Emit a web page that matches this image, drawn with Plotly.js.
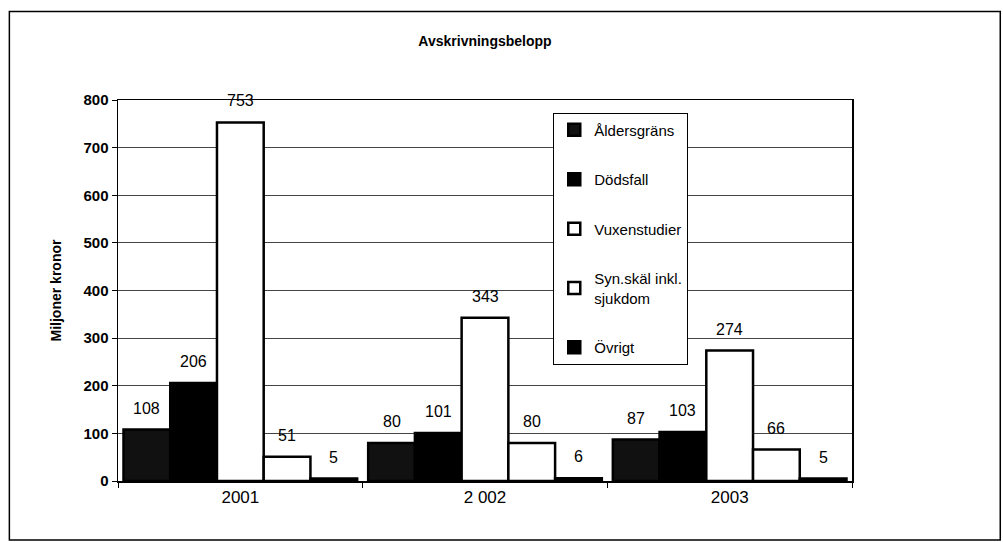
<!DOCTYPE html>
<html>
<head>
<meta charset="utf-8">
<script src="https://cdn.plot.ly/plotly-3.0.1.min.js"></script>
<style>html,body{margin:0;padding:0;background:#fff;}#chart{width:1003px;height:542px;}</style>
</head>
<body>
<div id="chart"></div>
<script>
const categories = ["2001", "2 002", "2003"];
const seriesNames = ["Åldersgräns", "Dödsfall", "Vuxenstudier", "Syn.skäl inkl.<br>sjukdom", "Övrigt"];
const aldersgrans = [108, 80, 87];
const dodsfall = [206, 101, 103];
const vuxenstudier = [753, 343, 274];
const synskal = [51, 80, 66];
const ovrigt = [5, 6, 5];
const yTicks = [0, 100, 200, 300, 400, 500, 600, 700, 800];

const seriesValues = [aldersgrans, dodsfall, vuxenstudier, synskal, ovrigt];
const fills = ["#111111", "#000000", "#ffffff", "#ffffff", "#000000"];

const traces = seriesValues.map((vals, i) => ({
  type: "bar",
  name: seriesNames[i],
  x: categories,
  y: vals,
  legendgroup: "g" + i,
  marker: {color: fills[i], line: {color: "#000", width: 2.5}},
  text: vals.map(String),
  textposition: "none",
  hoverinfo: "skip"
}));

const font = "Arial, 'Liberation Sans', sans-serif";
const annotations = [];
const nS = seriesValues.length;
const groupW = 0.955;
seriesValues.forEach((vals, i) => {
  vals.forEach((v, j) => {
    const off = -groupW / 2 + groupW / nS * (i + 0.5);
    annotations.push({
      x: j + off, y: v, xref: "x", yref: "y",
      text: String(v), showarrow: false,
      yanchor: "bottom", yshift: 11,
      font: {family: font, size: 16, color: "#000"}
    });
  });
});

const layout = {
  width: 1003, height: 542,
  margin: {l: 118, r: 151, t: 100, b: 61},
  paper_bgcolor: "#fff", plot_bgcolor: "#fff",
  title: {text: "Avskrivningsbelopp", x: 0.5, xanchor: "center", y: 0.925, yanchor: "middle",
          xref: "paper",
          font: {family: font, size: 14, weight: "bold", color: "#000"}},
  barmode: "group",
  bargap: 0.045,
  bargroupgap: 0,
  showlegend: true,
  legend: {
    x: 0.593, y: 0.967, xanchor: "left", yanchor: "top",
    bgcolor: "#fff", bordercolor: "#000", borderwidth: 1,
    traceorder: "grouped", tracegroupgap: 27,
    font: {family: font, size: 15, color: "#000"},
    itemclick: false
  },
  xaxis: {
    type: "category", showline: true, linecolor: "#000", linewidth: 1.5,
    mirror: true, ticks: "outside", ticklen: 5, tickson: "boundaries",
    tickcolor: "#000", tickfont: {family: font, size: 17, color: "#000"},
    showgrid: false, zeroline: false
  },
  yaxis: {
    range: [0, 800], tickvals: yTicks, ticktext: yTicks.map(String),
    showline: true, linecolor: "#000", linewidth: 1.5, mirror: true,
    ticks: "outside", ticklen: 5, tickcolor: "#000",
    showgrid: true, gridcolor: "#444", gridwidth: 1, zeroline: false,
    tickfont: {family: font, size: 15, weight: "bold", color: "#000"},
    title: {text: "Miljoner kronor", standoff: 18,
            font: {family: font, size: 14, weight: "bold", color: "#000"}}
  },
  annotations: annotations,
  shapes: [{type: "rect", xref: "paper", yref: "paper",
            x0: -0.148, x1: 1.202, y0: -0.155, y1: 1.232,
            line: {color: "#000", width: 1.5}, fillcolor: "rgba(0,0,0,0)", layer: "below"}]
};

Plotly.newPlot("chart", traces, layout, {displayModeBar: false, staticPlot: true});
</script>
</body>
</html>
